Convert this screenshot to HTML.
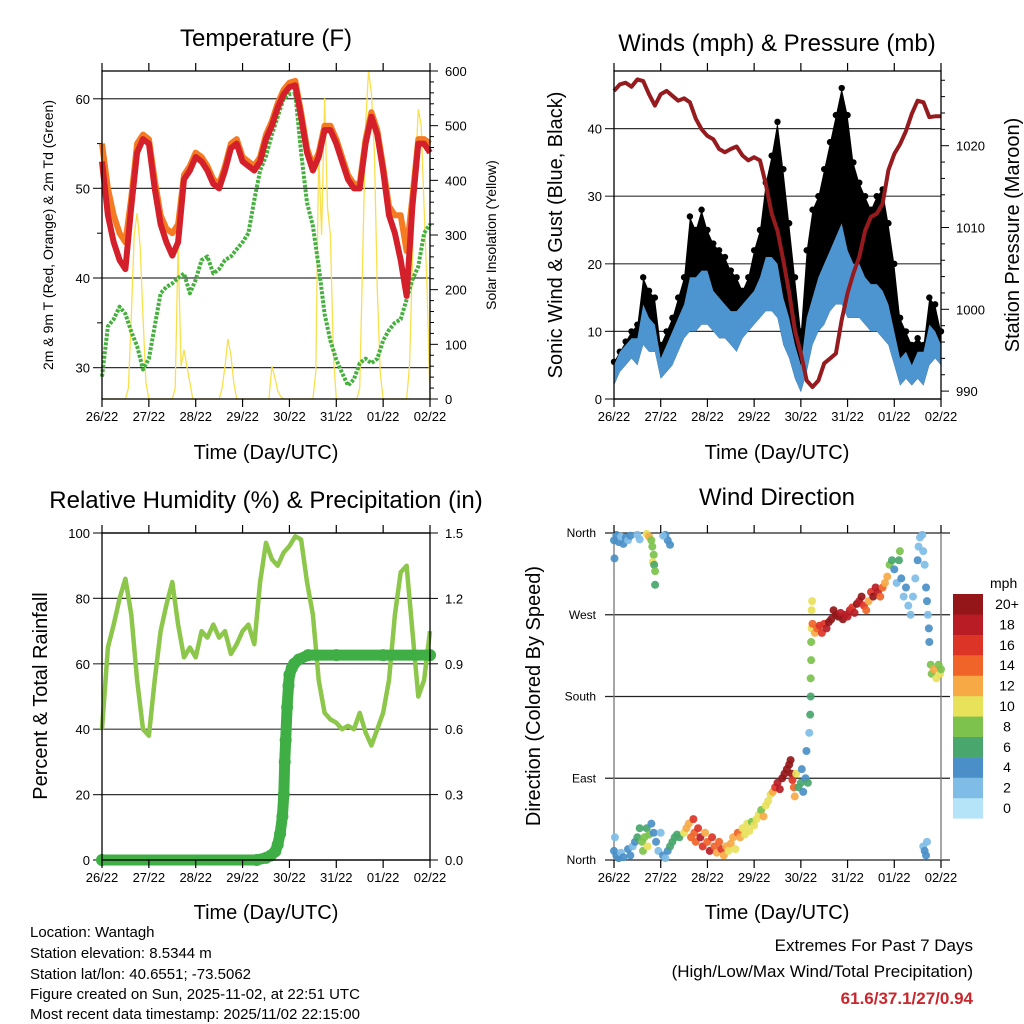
<!DOCTYPE html>
<html><head><meta charset="utf-8"><title>Weather station charts</title>
<style>
html,body{margin:0;padding:0;background:#fff;}
svg{display:block;font-family:"Liberation Sans",Arial,sans-serif;}
</style></head>
<body>
<svg id="root" width="1024" height="1024" viewBox="0 0 1024 1024" xmlns="http://www.w3.org/2000/svg">
<rect x="0" y="0" width="1024" height="1024" fill="#fff"/>
<text x="266" y="46" font-size="24" text-anchor="middle">Temperature (F)</text>
<text x="777" y="51" font-size="24" text-anchor="middle">Winds (mph) &amp; Pressure (mb)</text>
<text x="266" y="508" font-size="24" text-anchor="middle">Relative Humidity (%) &amp; Precipitation (in)</text>
<text x="777" y="505" font-size="24" text-anchor="middle">Wind Direction</text>
<text x="266" y="459" font-size="20" text-anchor="middle">Time (Day/UTC)</text>
<text x="777" y="459" font-size="20" text-anchor="middle">Time (Day/UTC)</text>
<text x="266" y="919" font-size="20" text-anchor="middle">Time (Day/UTC)</text>
<text x="777" y="919" font-size="20" text-anchor="middle">Time (Day/UTC)</text>
<text transform="translate(53,235) rotate(-90)" font-size="14" text-anchor="middle">2m &amp; 9m T (Red, Orange) &amp; 2m Td (Green)</text>
<text transform="translate(496,235) rotate(-90)" font-size="14" text-anchor="middle">Solar Insolation (Yellow)</text>
<text transform="translate(562,235) rotate(-90)" font-size="20" text-anchor="middle">Sonic Wind &amp; Gust (Blue, Black)</text>
<text transform="translate(1019,235) rotate(-90)" font-size="20" text-anchor="middle">Station Pressure (Maroon)</text>
<text transform="translate(47,696) rotate(-90)" font-size="20" text-anchor="middle">Percent &amp; Total Rainfall</text>
<text transform="translate(540,696) rotate(-90)" font-size="20" text-anchor="middle">Direction (Colored By Speed)</text>
<text x="990" y="588" font-size="14">mph</text>
<g font-size="15">
<text x="30" y="937">Location: Wantagh</text>
<text x="30" y="958">Station elevation: 8.5344 m</text>
<text x="30" y="979">Station lat/lon: 40.6551; -73.5062</text>
<text x="30" y="999">Figure created on Sun, 2025-11-02, at 22:51 UTC</text>
<text x="30" y="1019">Most recent data timestamp: 2025/11/02 22:15:00</text>
</g>
<text x="973" y="951" font-size="17" text-anchor="end">Extremes For Past 7 Days</text>
<text x="973" y="977" font-size="17" text-anchor="end">(High/Low/Max Wind/Total Precipitation)</text>
<text x="973" y="1004" font-size="17" font-weight="bold" fill="#c8282d" text-anchor="end">61.6/37.1/27/0.94</text>
<g id="marks"></g>
</svg>
<script>
// ---- shared time axis ----
const dayLabels = ["26/22","27/22","28/22","29/22","30/22","31/22","01/22","02/22"];
const t3 = []; for (let i = 0; i <= 56; i++) t3.push(i / 8);
const t16 = []; for (let i = 0; i <= 112; i++) t16.push(i / 16);
// ---- temperature ----
const temp2m = [53,47,44,42,41,48,54,55.5,55,50,46,44,42.5,44,51,52,53.5,53,52,50.5,50,52,54.5,55,53,52.5,52,53,55.5,57,59,60.5,61.3,61.5,58,54,52,53.5,56.5,56.5,55,53,51,50,50,55,58,56,52,47,45,42,38,48,55,55,54];
const temp9m = [55,50,47,45,44,49,55,56,55.5,51,47,45.5,45,46,51.5,52.5,54,53.5,52.5,51,50.5,52.5,55,55.5,53.5,53,52.5,53.5,56,57.5,59.5,61,61.8,62,58.5,54.5,52.5,54,57,57,55.5,53.5,51.5,50.5,50.5,55.5,58.5,56.5,52.5,48,47,47,43,49,55.5,55.5,55];
const dewpt = [29,34.6,35.4,36.8,36,34,32.4,29.8,31,34.6,38.3,39,39.4,40,40.5,38.3,39.8,42,42.4,40.5,41,42,42.4,43.2,44,45,48.7,52,53.6,56,58,60,60.5,60.6,54,48.4,45.8,41.3,36,33,30.9,29.4,28,28.7,30.5,31,30.5,31,33,34.2,35,35.4,37.6,39.8,41.3,45,46];
const solar = [0,0,0,0,0,0,0,0,0,20,150,300,340,280,150,30,
0,0,0,0,0,0,0,0,0,20,280,60,90,60,30,0,
0,0,0,0,0,0,0,0,0,20,60,110,80,30,0,0,
0,0,0,0,0,0,0,0,0,0,60,40,15,5,0,0,
0,0,0,0,0,0,0,0,0,50,450,300,550,350,300,80,
0,0,0,0,0,0,0,0,20,250,500,600,560,450,200,50,
0,0,0,0,0,0,0,0,0,60,250,420,530,500,350,200,0];
const tempTicks = [30,40,50,60];
const solarTicks = [0,100,200,300,400,500,600];
// ---- winds ----
const windLow = [2,4,5,6,5,8,7,7,3,4,5,7,9,10,10,11,11,10,9,9,8,7,9,10,11,12,13,13,12,8,6,3,1,4,8,10,11,13,14,14,12,12,12,11,10,10,9,8,5,2,3,2,3,2,5,6,5];
const windHigh = [5,7,8,9,9,14,12,11,6,8,10,12,14,18,18,19,19,16,15,14,13,13,14,15,16,18,21,21,20,15,12,8,5,12,15,18,20,22,24,26,22,20,20,18,17,17,16,14,10,6,7,5,7,7,11,10,8];
const gustHigh = [5.5,7,8.5,10,11,18,16,15,8,10,12,15,18,27,25,28,25,23,22,21,19,18,16,18,22,25,32,36,41,34,26,18,10,22,28,30,34,38,42,46,42,35,32,30,28,30,31,26,20,12,10,8,9,8,15,14,10];
const pressure = [1026.7,1027.5,1027.7,1027.2,1028.1,1027.9,1026.3,1024.9,1026.3,1026.7,1026.1,1025.5,1025.8,1025.3,1023.3,1022,1021.2,1020.8,1019.6,1019.2,1019.6,1019.9,1018.8,1018.2,1018.6,1018.2,1015.3,1011.7,1009.6,1006,1002,997.4,994.6,991.3,990.5,991.3,993.4,994,994.6,998.7,1002,1004.4,1006.4,1009.6,1011.3,1011.7,1012.9,1017,1019,1020.2,1021.8,1023.9,1025.5,1025.3,1023.5,1023.6,1023.6];
const windTicks = [0,10,20,30,40];
const presTicks = [990,1000,1010,1020];
// ---- humidity / precipitation ----
const rh = [40,65,72,80,86,75,55,40,38,55,70,78,85,72,62,65,62,70,68,72,68,70,63,66,70,72,66,85,97,92,90,94,96,99,98,85,75,55,45,43,42,40,41,40,45,39,35,40,45,55,75,88,90,70,50,55,70];
const precipT = [0,3.3,3.5,3.6,3.7,3.75,3.8,3.85,3.88,3.9,3.92,3.95,3.98,4.0,4.05,4.1,4.2,4.4,5,6,7];
const precipV = [0,0,0.01,0.02,0.04,0.07,0.12,0.2,0.3,0.45,0.55,0.7,0.8,0.85,0.88,0.9,0.92,0.94,0.94,0.94,0.94];
const rhTicks = [0,20,40,60,80,100];
const precipTicks = ["0.0","0.3","0.6","0.9","1.2","1.5"];
// ---- wind direction ----
const dirT = [0.0,0.05,0.1,0.15,0.2,0.25,0.3,0.35,0.01,0.5,0.55,0.7,0.75,0.8,0.82,0.85,0.83,0.86,0.88,0.88,1.1,1.15,1.2,1.05,
0.0,0.02,0.05,0.1,0.15,0.2,0.3,0.35,0.4,0.45,0.5,0.55,0.6,0.62,0.65,0.7,0.72,0.75,0.8,0.85,0.9,0.95,1.0,1.05,1.1,1.15,1.2,1.25,1.3,1.35,1.4,1.5,1.55,1.6,1.65,1.7,1.72,1.75,1.8,1.85,1.9,1.95,2.0,2.05,2.1,2.15,2.2,2.25,2.3,2.35,2.4,2.45,2.5,2.55,2.6,2.65,2.7,2.75,2.8,2.85,2.9,2.95,3.0,3.05,3.1,3.15,3.2,3.25,3.3,3.35,3.4,3.45,3.5,3.55,3.6,3.65,3.7,3.75,3.78,3.8,3.82,3.85,3.87,3.9,3.95,4.0,4.02,4.05,4.1,4.12,4.15,4.18,4.2,4.21,4.21,4.22,4.22,4.23,4.23,4.24,4.25,4.3,4.35,4.4,4.45,4.5,4.55,4.6,4.65,4.7,4.75,4.8,4.85,4.9,4.95,5.0,5.05,5.1,5.15,5.2,5.25,5.3,5.35,5.4,5.45,5.5,5.55,5.6,5.65,5.7,5.75,5.8,5.85,5.9,5.95,6.0,6.05,6.1,6.12,6.15,6.2,6.25,6.3,6.35,6.4,6.45,6.5,6.52,6.55,6.6,6.62,6.65,6.68,6.7,6.72,6.74,6.75,6.62,6.65,6.68,6.7,6.78,6.8,6.85,6.9,6.95,6.98,7.0];
const dirD = [352,358,350,356,348,355,352,357,332,358,353,359,356,352,345,336,328,325,318,303,358,352,347,357,
10,25,5,2,8,3,12,5,15,20,25,35,20,10,25,35,15,28,40,30,20,10,30,5,2,10,15,20,25,28,25,30,35,40,25,45,30,20,35,25,15,30,20,10,25,15,8,20,12,5,15,10,18,25,12,30,25,35,28,40,32,42,38,45,50,55,48,60,65,72,75,80,85,78,90,95,100,105,110,95,88,80,70,95,80,85,100,75,90,120,85,140,160,180,200,220,240,255,275,285,260,250,255,258,250,260,255,262,265,275,270,268,272,265,270,268,275,278,272,282,285,290,280,275,285,295,290,300,295,290,300,305,312,325,330,320,305,330,340,310,290,300,280,270,290,310,330,345,355,358,340,325,300,285,270,255,240,15,10,5,20,215,205,210,200,215,205,210];
const dirS = [4,4,4,3,4,4,3,4,4,2,3,10,12,8,9,8,10,7,8,6,4,4,4,2,
4,3,4,4,3,4,4,4,3,4,6,6,8,9,8,7,10,8,5,4,4,3,3,4,3,4,6,6,7,6,7,10,12,12,14,16,15,14,16,18,16,12,14,18,16,15,12,14,16,12,12,10,12,12,10,14,12,10,10,11,10,9,10,11,10,9,12,10,10,11,12,16,18,18,20,20,20,20,21,20,16,14,12,10,6,7,4,5,4,4,6,3,7,7,8,8,8,10,11,11,14,13,14,16,17,16,18,20,20,20,20,20,19,20,18,19,18,17,18,20,18,20,16,14,12,16,20,18,19,15,14,13,12,8,6,4,3,6,8,4,3,4,3,2,3,3,4,3,2,2,3,2,4,4,3,4,4,3,4,4,3,8,9,12,10,8,11,9];
const speedBins = ["0","2","4","6","8","10","12","14","16","18","20+"];
const speedColors = ["#b5e3f8","#7fbde6","#4a8fc7","#49a66d","#7cc24c","#e8e15a","#f6a945","#f06429","#dd3428","#b91c25","#941619"];

// ---- helpers ----
const NS = "http://www.w3.org/2000/svg";
const marks = document.getElementById("marks");
function mk(tag, attrs, parent) {
  const e = document.createElementNS(NS, tag);
  for (const k in attrs) e.setAttribute(k, attrs[k]);
  (parent || marks).appendChild(e);
  return e;
}
const P1 = {x0:102, x1:430, y0:71, y1:399};
const P2 = {x0:614, x1:941, y0:71, y1:399};
const P3 = {x0:102, x1:430, y0:533, y1:860};
const P4 = {x0:614, x1:941, y0:533, y1:860};
function xs(P, t) { return P.x0 + t / 7 * (P.x1 - P.x0); }
const tempY = v => 399 - (v - 26.5) / (63.1 - 26.5) * 328;
const solarY = v => 399 - v / 600 * 328;
const windY = v => 399 - v * 6.76;
const presY = v => 309.3 - (v - 1000) * 8.18;
const rhY = v => 860 - v * 3.27;
const precipY = v => 860 - v / 1.5 * 327;
const dirY = d => 860 - d / 360 * 327;
function pts(P, ts, vs, yf) { return ts.map((t, i) => xs(P, t).toFixed(1) + "," + yf(vs[i]).toFixed(1)).join(" "); }

function timeAxis(P, name) {
  dayLabels.forEach((lab, i) => {
    const x = xs(P, i);
    const tk = mk("line", {x1:x, x2:x, y1:P.y1, y2:P.y1 + 8, stroke:"#000", "stroke-width":1.2});
    
    
    const tt = mk("line", {x1:x, x2:x, y1:P.y0, y2:P.y0 - 8, stroke:"#000", "stroke-width":1.2});
    
    
    const tx = mk("text", {x:x, y:P.y1 + 22, "font-size":13, "text-anchor":"middle"});
    tx.textContent = lab;
    
    
  });
}
function frame(P, name) {
  const r = mk("rect", {x:P.x0, y:P.y0, width:P.x1 - P.x0, height:P.y1 - P.y0, fill:"none", stroke:"#000", "stroke-width":1.3});
  
  
}
function hgrid(P, y, name, color) {
  const g = mk("line", {x1:P.x0 - 9, x2:P.x1, y1:y, y2:y, stroke:color || "#333", "stroke-width":1.2});
  
  
}
function leftLabel(P, y, txt, name) {
  const t = mk("text", {x:P.x0 - 12, y:y + 5, "font-size":13, "text-anchor":"end"});
  t.textContent = txt;
  
  
}
function rightTick(P, y, txt, name, len) {
  const l = mk("line", {x1:P.x1, x2:P.x1 + len, y1:y, y2:y, stroke:"#000", "stroke-width":1});
  
  
  if (txt !== null) {
    const t = mk("text", {x:P.x1 + 15, y:y + 5, "font-size":13});
    t.textContent = txt;
    
    
  }
}

// ===== Panel 1: temperature =====
tempTicks.forEach(v => { hgrid(P1, tempY(v), "temp-gridline"); leftLabel(P1, tempY(v), String(v), "temp-y-tick-label"); });
[35,45,55].forEach(v => { const m = mk("line", {x1:P1.x0 - 5, x2:P1.x0, y1:tempY(v), y2:tempY(v), stroke:"#000"});   });
for (let v = 0; v <= 600; v += 20) rightTick(P1, solarY(v), v % 100 === 0 ? String(v) : null, "solar-y", v % 100 === 0 ? 8 : 4);
const solarLine = mk("polyline", {points:pts(P1, t16, solar, solarY), fill:"none", stroke:"#f9e04b", "stroke-width":1.3});


const dewLine = mk("polyline", {points:pts(P1, t3, dewpt, tempY), fill:"none", stroke:"#45b03d", "stroke-width":4, "stroke-dasharray":"3 1.5", "stroke-linejoin":"round"});


const t9Line = mk("polyline", {points:pts(P1, t3, temp9m, tempY), fill:"none", stroke:"#f47b22", "stroke-width":6, "stroke-linejoin":"round"});


const t2Line = mk("polyline", {points:pts(P1, t3, temp2m, tempY), fill:"none", stroke:"#d3202a", "stroke-width":6, "stroke-linejoin":"round"});


frame(P1, "temp"); timeAxis(P1, "temp");

// ===== Panel 2: winds & pressure =====
windTicks.forEach(v => { hgrid(P2, windY(v), "wind-gridline"); leftLabel(P2, windY(v), String(v), "wind-y-tick-label"); });
for (let v = 990; v <= 1028; v += 2) rightTick(P2, presY(v), v % 10 === 0 ? String(v) : null, "pressure-y", v % 10 === 0 ? 8 : 4);
const gustBand = mk("polygon", {points:pts(P2, t3, gustHigh, windY) + " " + pts(P2, t3.slice().reverse(), windLow.slice().reverse(), windY), fill:"#000"});


gustHigh.forEach((g, i) => {
  const c = mk("circle", {cx:xs(P2, t3[i]), cy:windY(g), r:3.2, fill:"#000"});
  
  
});
const windBand = mk("polygon", {points:pts(P2, t3, windHigh, windY) + " " + pts(P2, t3.slice().reverse(), windLow.slice().reverse(), windY), fill:"#4d95d0"});


const presLine = mk("polyline", {points:pts(P2, t3, pressure, presY), fill:"none", stroke:"#951b1f", "stroke-width":4, "stroke-linejoin":"round"});


frame(P2, "wind"); timeAxis(P2, "wind");

// ===== Panel 3: humidity & precip =====
rhTicks.forEach(v => { hgrid(P3, rhY(v), "rh-gridline"); leftLabel(P3, rhY(v), String(v), "rh-y-tick-label"); });
precipTicks.forEach(s => rightTick(P3, precipY(parseFloat(s)), s, "precip-y", 8));
const rhLine = mk("polyline", {points:pts(P3, t3, rh, rhY), fill:"none", stroke:"#8cc64a", "stroke-width":4.5, "stroke-linejoin":"round"});


const prLine = mk("polyline", {points:pts(P3, precipT, precipV, precipY), fill:"none", stroke:"#3fae45", "stroke-width":11, "stroke-linecap":"round", "stroke-linejoin":"round"});


precipT.forEach((t, i) => {
  const c = mk("circle", {cx:xs(P3, t), cy:precipY(precipV[i]), r:6, fill:"#3fae45"});
  
  
});
frame(P3, "rh"); timeAxis(P3, "rh");

// ===== Panel 4: wind direction =====
const dirNames = ["North","East","South","West","North"];
dirNames.forEach((n, i) => {
  const y = dirY(i * 90);
  const g = mk("line", {x1:P4.x0 - 9, x2:P4.x1 + 9, y1:y, y2:y, stroke:"#222", "stroke-width":1.2});
  
  
  const t = mk("text", {x:P4.x0 - 18, y:y + 4, "font-size":12, "text-anchor":"end"});
  t.textContent = n;
  
  
});
[P4.x0, P4.x1].forEach(x => {
  const l = mk("line", {x1:x, x2:x, y1:P4.y0, y2:P4.y1, stroke:"#777", "stroke-width":1.3});
  
  
});
function speedColor(s) { return speedColors[Math.min(10, Math.floor(s / 2))]; }
dirT.forEach((t, i) => {
  const c = mk("circle", {cx:xs(P4, t), cy:dirY(dirD[i]), r:4, fill:speedColor(dirS[i]), "fill-opacity":0.92});
  
  
});
timeAxis(P4, "dir");
// colorbar
speedBins.forEach((lab, i) => {
  const y = 594 + (10 - i) * 20.4;
  const r = mk("rect", {x:953, y:y, width:30, height:20.6, fill:speedColors[i]});
  
  
  const t = mk("text", {x:1007, y:y + 15, "font-size":14, "text-anchor":"middle"});
  t.textContent = lab;
  
  
});
</script>
</body></html>
